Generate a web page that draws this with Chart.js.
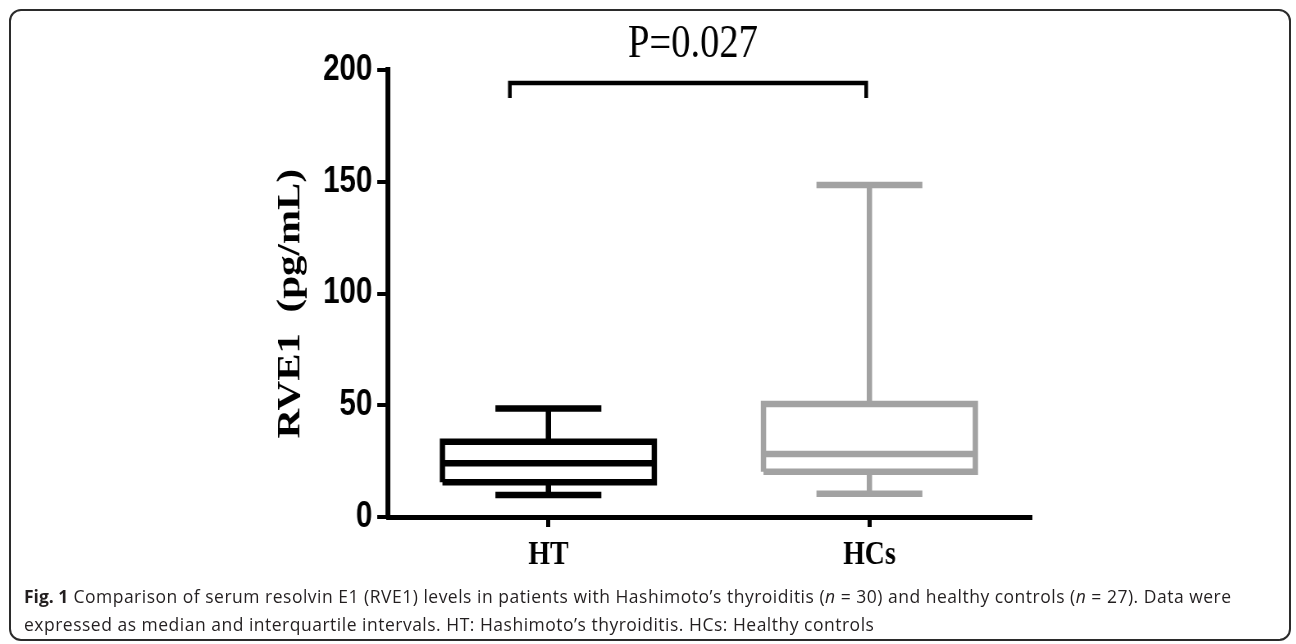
<!DOCTYPE html>
<html>
<head>
<meta charset="utf-8">
<script src="https://cdn.jsdelivr.net/npm/chart.js@4.4.1/dist/chart.umd.min.js"></script>
<style>
  html, body { margin: 0; padding: 0; background: #fff; }
  body { width: 1296px; height: 644px; position: relative; overflow: hidden; }
  #frame { position: absolute; left: 9px; top: 9px; width: 1282px; height: 632px; box-sizing: border-box;
           border: 2px solid #2b2b2b; border-radius: 12px; pointer-events: none; }
  #wrap { position: absolute; left: 0; top: 0; width: 1580px; height: 580px; transform: scaleX(0.82); transform-origin: 0 0; }
  #caption { position: absolute; left: 24px; top: 582px; font-family: "Open Sans", sans-serif; font-size: 17.5px;
             letter-spacing: 0.5px; line-height: 28px; color: #231f20; white-space: nowrap; }
  #caption b { font-weight: 700; letter-spacing: 0; }
</style>
</head>
<body>
<div id="wrap"><canvas id="c" width="1580" height="580" style="width:1580px;height:580px"></canvas></div>
<div id="frame"></div>
<div id="caption"><b>Fig. 1</b> Comparison of serum resolvin E1 (RVE1) levels in patients with Hashimoto’s thyroiditis (<i>n</i> = 30) and healthy controls (<i>n</i> = 27). Data were<br>expressed as median and interquartile intervals. HT: Hashimoto’s thyroiditis. HCs: Healthy controls</div>
<script>
// ---- data ----
const categories = ['HT', 'HCs'];
const minVals    = [9.8, 10.4];
const q1Vals     = [15.5, 20.3];
const medianVals = [24.0, 28.2];
const q3Vals     = [33.7, 50.6];
const maxVals    = [48.6, 148.5];
const yTicks     = [0, 50, 100, 150, 200];
const pValueText = 'P=0.027';
const bracketX   = [0.88, 1.99];
const bracketY   = [187.5, 194.2];

// ---- style ----
const groupColors = ['#000000', '#a2a2a2'];
const BOX_HALF = 0.33;
const CAP_HALF = 0.165;

function groupPath(i) {
  const c = i + 1;
  const gap = { x: c, y: null };
  return [
    { x: c - BOX_HALF, y: q1Vals[i] }, { x: c + BOX_HALF, y: q1Vals[i] },
    { x: c + BOX_HALF, y: q3Vals[i] }, { x: c - BOX_HALF, y: q3Vals[i] },
    { x: c - BOX_HALF, y: q1Vals[i] }, gap,
    { x: c - BOX_HALF, y: medianVals[i] }, { x: c + BOX_HALF, y: medianVals[i] }, gap,
    { x: c, y: q3Vals[i] }, { x: c, y: maxVals[i] }, gap,
    { x: c - CAP_HALF, y: maxVals[i] }, { x: c + CAP_HALF, y: maxVals[i] }, gap,
    { x: c, y: q1Vals[i] }, { x: c, y: minVals[i] }, gap,
    { x: c - CAP_HALF, y: minVals[i] }, { x: c + CAP_HALF, y: minVals[i] }
  ];
}

const datasets = categories.map((name, i) => ({
  label: name,
  data: groupPath(i),
  borderColor: groupColors[i],
  borderWidth: 6.5,
  borderJoinStyle: 'miter',
  borderCapStyle: 'butt',
  pointRadius: 0,
  tension: 0,
  fill: false,
  spanGaps: false,
  clip: false
}));
datasets.push({
  label: 'bracket',
  data: [
    { x: bracketX[0], y: bracketY[0] }, { x: bracketX[0], y: bracketY[1] },
    { x: bracketX[1], y: bracketY[1] }, { x: bracketX[1], y: bracketY[0] }
  ],
  borderColor: '#000', borderWidth: 4.5, borderJoinStyle: 'miter',
  pointRadius: 0, tension: 0, fill: false, clip: false
});

const pLabelPlugin = {
  id: 'pLabel',
  afterDatasetsDraw(chart) {
    const { ctx, scales: { x, y } } = chart;
    ctx.save();
    ctx.font = '47px "Liberation Serif", serif';
    ctx.fillStyle = '#000';
    ctx.textAlign = 'center';
    ctx.textBaseline = 'alphabetic';
    ctx.fillText(pValueText, x.getPixelForValue((bracketX[0] + bracketX[1]) / 2) + 6, y.getPixelForValue(bracketY[1]) - 26);
    ctx.restore();
  }
};

new Chart(document.getElementById('c'), {
  type: 'line',
  data: { datasets },
  plugins: [pLabelPlugin],
  options: {
    responsive: false,
    devicePixelRatio: 1,
    animation: false,
    events: [],
    layout: { padding: { left: 326, right: 324, top: 70, bottom: 3 } },
    plugins: { legend: { display: false }, tooltip: { enabled: false }, title: { display: false } },
    scales: {
      x: {
        type: 'linear', min: 0.5, max: 2.5,
        afterBuildTicks: s => { s.ticks = categories.map((c, i) => ({ value: i + 1 })); },
        afterFit: s => { s.height = 60; },
        ticks: {
          callback: v => categories[v - 1],
          font: { family: '"Liberation Serif", serif', weight: 'bold', size: 34 },
          color: '#000', padding: 8, maxRotation: 0, autoSkip: false
        },
        grid: { display: true, drawOnChartArea: false, drawTicks: true, tickLength: 10, lineWidth: 5, color: '#000' },
        border: { display: true, width: 5, color: '#000' }
      },
      y: {
        min: 0, max: 200,
        afterBuildTicks: s => { s.ticks = yTicks.map(v => ({ value: v })); },
        afterFit: s => { s.width = 147; },
        ticks: {
          font: { family: '"Liberation Sans", sans-serif', weight: 'bold', size: 36 },
          color: '#000', padding: 6
        },
        grid: { display: true, drawOnChartArea: false, drawTicks: true, tickLength: 13, lineWidth: 4, color: '#000' },
        border: { display: true, width: 6, color: '#000' },
        title: {
          display: true, text: 'RVE1  (pg/mL)  ', color: '#000',
          font: { family: '"Liberation Serif", serif', weight: 'bold', size: 41 },
          padding: { top: 4, bottom: 4 }
        }
      }
    }
  }
});
</script>
</body>
</html>
